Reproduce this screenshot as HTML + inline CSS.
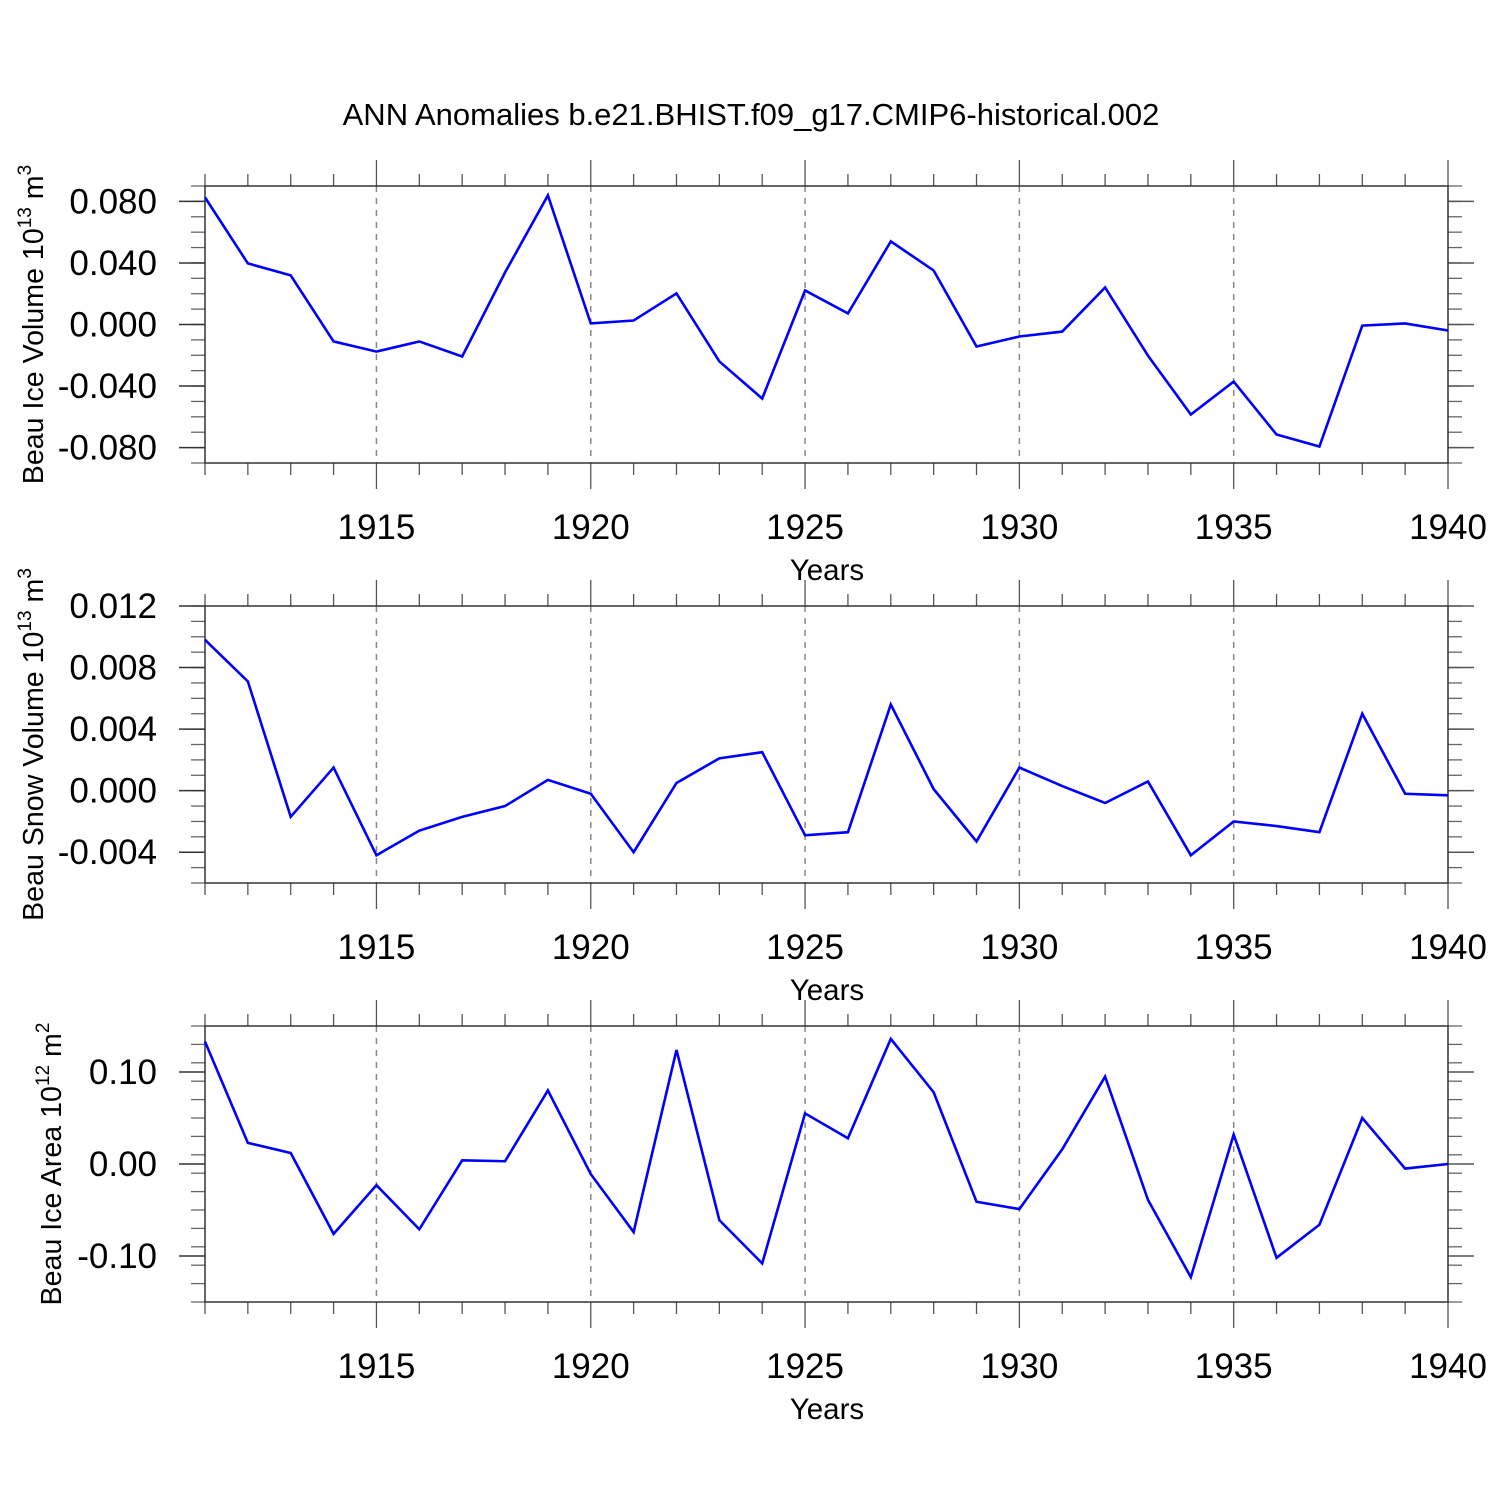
<!DOCTYPE html>
<html><head><meta charset="utf-8"><style>
body{margin:0;background:#fff}
svg{display:block}
text{font-family:"Liberation Sans",sans-serif;fill:#000}
</style></head><body>
<svg id="chart" width="1500" height="1500" viewBox="0 0 1500 1500" xmlns="http://www.w3.org/2000/svg">
<text x="751" y="125" font-size="31" text-anchor="middle">ANN Anomalies b.e21.BHIST.f09_g17.CMIP6-historical.002</text>
</svg>
<script>
const years = [1911,1912,1913,1914,1915,1916,1917,1918,1919,1920,1921,1922,1923,1924,1925,1926,1927,1928,1929,1930,1931,1932,1933,1934,1935,1936,1937,1938,1939,1940];
const iceVolume = [0.0826,0.0397,0.0319,-0.011,-0.0176,-0.011,-0.0208,0.0338,0.0839,0.0007,0.0026,0.0202,-0.024,-0.0481,0.0221,0.0072,0.054,0.0351,-0.0143,-0.0078,-0.0046,0.0241,-0.0202,-0.0585,-0.0371,-0.0715,-0.0793,-0.0007,0.0007,-0.0039];
const snowVolume = [0.0098,0.0071,-0.0017,0.0015,-0.0042,-0.0026,-0.0017,-0.001,0.0007,-0.0002,-0.004,0.0005,0.0021,0.0025,-0.0029,-0.0027,0.0056,0.0001,-0.0033,0.0015,0.0003,-0.0008,0.0006,-0.0042,-0.002,-0.0023,-0.0027,0.005,-0.0002,-0.0003];
const iceArea = [0.133,0.023,0.012,-0.076,-0.023,-0.071,0.004,0.003,0.080,-0.011,-0.074,0.124,-0.061,-0.108,0.055,0.028,0.136,0.078,-0.041,-0.049,0.016,0.095,-0.039,-0.123,0.032,-0.102,-0.066,0.050,-0.005,0.000];
const xTickYears = [1915,1920,1925,1930,1935,1940];
const ticks1 = ["0.080","0.040","0.000","-0.040","-0.080"];
const ticks2 = ["0.012","0.008","0.004","0.000","-0.004"];
const ticks3 = ["0.10","0.00","-0.10"];

const NS="http://www.w3.org/2000/svg";
const svg=document.getElementById('chart');
function mk(tag,attrs,parent){const e=document.createElementNS(NS,tag);for(const k in attrs)e.setAttribute(k,attrs[k]);(parent||svg).appendChild(e);return e;}
const X0=205,X1=1448,Y0year=1911,Y1year=1940;
function xs(yr){return X0+(yr-Y0year)/(Y1year-Y0year)*(X1-X0);}

function panel(cfg){
  const g=mk('g',{});
  
  
  const top=cfg.top,bot=cfg.bot;
  const ys=v=>top+(cfg.max-v)/(cfg.max-cfg.min)*(bot-top);
  xTickYears.forEach(yr=>{ if(yr<1940) mk('line',{x1:xs(yr),x2:xs(yr),y1:top,y2:bot,stroke:'#888','stroke-width':1.5,'stroke-dasharray':'6,6'},g);});
  for(let yr=1911;yr<=1940;yr++){
    const major=yr%5===0, x=xs(yr);
    mk('line',{x1:x,x2:x,y1:top,y2:top-(major?26:12),stroke:'#555','stroke-width':1.3},g);
    mk('line',{x1:x,x2:x,y1:bot,y2:bot+(major?26:12),stroke:'#555','stroke-width':1.3},g);
  }
  for(let v=cfg.min;v<=cfg.max+1e-9;v+=cfg.minor){
    const y=ys(v);
    mk('line',{x1:X0,x2:X0-14,y1:y,y2:y,stroke:'#666','stroke-width':1.3},g);
    mk('line',{x1:X1,x2:X1+14,y1:y,y2:y,stroke:'#666','stroke-width':1.3},g);
  }
  cfg.labels.forEach(lab=>{
    const v=parseFloat(lab), y=ys(v);
    mk('line',{x1:X0,x2:X0-26,y1:y,y2:y,stroke:'#333','stroke-width':1.5},g);
    mk('line',{x1:X1,x2:X1+26,y1:y,y2:y,stroke:'#555','stroke-width':1.5},g);
    const t=mk('text',{x:157,y:y+12,'font-size':35,'text-anchor':'end'},g);
    
    
    t.textContent=lab;
  });
  mk('rect',{x:X0,y:top,width:X1-X0,height:bot-top,fill:'none',stroke:'#333','stroke-width':1.5},g);
  xTickYears.forEach(yr=>{
    const t=mk('text',{x:xs(yr),y:bot+76,'font-size':35,'text-anchor':'middle'},g);
    
    
    t.textContent=yr;
  });
  const xt=mk('text',{x:827,y:bot+117,'font-size':29.5,'text-anchor':'middle'},g);
  
  
  xt.textContent='Years';
  const yt=mk('text',{transform:`translate(${cfg.ytx},${(top+bot)/2}) rotate(-90)`,'font-size':28.6,'text-anchor':'middle'},g);
  
  
  yt.innerHTML=cfg.ytitle+' 10<tspan dy="-12" font-size="19">'+cfg.exp+'</tspan><tspan dy="12"> m</tspan><tspan dy="-12" font-size="19">'+cfg.unit+'</tspan>';
  const pts=cfg.data.map((v,i)=>xs(years[i])+','+ys(v)).join(' ');
  const pl=mk('polyline',{points:pts,fill:'none',stroke:'#0000ff','stroke-width':2.6,'stroke-linejoin':'miter'},g);
  
  
}
panel({name:'ice-volume-panel',top:186,bot:463,min:-0.09,max:0.09,minor:0.01,labels:ticks1,data:iceVolume,ytitle:'Beau Ice Volume',exp:'13',unit:'3',ytx:43});
panel({name:'snow-volume-panel',top:606,bot:883,min:-0.006,max:0.012,minor:0.001,labels:ticks2,data:snowVolume,ytitle:'Beau Snow Volume',exp:'13',unit:'3',ytx:43});
panel({name:'ice-area-panel',top:1026,bot:1302,min:-0.15,max:0.15,minor:0.02,labels:ticks3,data:iceArea,ytitle:'Beau Ice Area',exp:'12',unit:'2',ytx:61});
</script>
</body></html>
